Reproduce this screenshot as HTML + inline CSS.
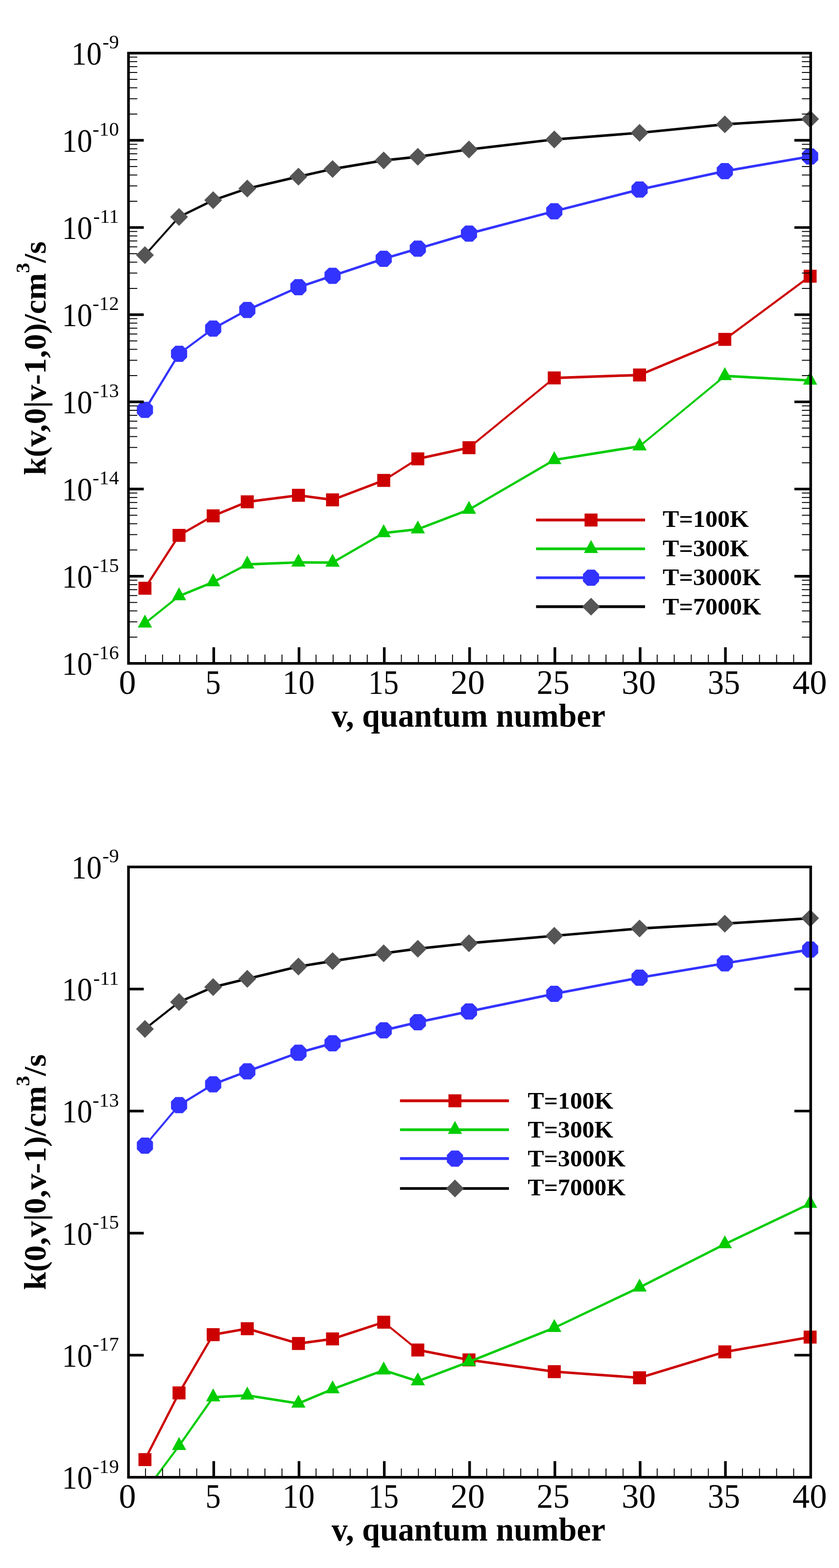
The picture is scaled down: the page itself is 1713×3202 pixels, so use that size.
<!DOCTYPE html>
<html lang="en">
<head>
<meta charset="utf-8">
<title>Rate coefficients vs vibrational quantum number</title>
<style>
html,body{margin:0;padding:0;background:#fff;}
body{width:1713px;height:3202px;overflow:hidden;}
svg{display:block;}
text{font-family:"Liberation Serif","Times New Roman",serif;fill:#000;}
.tk text{font-size:66px;}
.sup,.tk text.sup{font-size:38.5px;}
.ttl{font-size:66px;font-weight:bold;}
.ttl .sup{font-size:42px;}
.lg{font-size:49.5px;font-weight:bold;}
</style>
</head>
<body>
<svg width="1713" height="3202" viewBox="0 0 1713 3202">
<rect width="1713" height="3202" fill="#fff"/>
<clipPath id="clip1"><rect x="262.3" y="108.5" width="1392.9" height="1246.2"/></clipPath>
<g clip-path="url(#clip1)" stroke="#cc0000" fill="none"><line x1="295.9" y1="1201.3" x2="365.6" y2="1093.2" stroke-width="4.37"/><line x1="365.6" y1="1093.2" x2="435.2" y2="1053.4" stroke-width="4.51"/><line x1="435.2" y1="1053.4" x2="504.9" y2="1024.8" stroke-width="4.81"/><line x1="504.9" y1="1024.8" x2="609.3" y2="1011.5" stroke-width="5.16"/><line x1="609.3" y1="1011.5" x2="679.0" y2="1020.7" stroke-width="5.16"/><line x1="679.0" y1="1020.7" x2="783.4" y2="981.0" stroke-width="4.86"/><line x1="783.4" y1="981.0" x2="853.1" y2="937.0" stroke-width="4.40"/><line x1="853.1" y1="937.0" x2="957.5" y2="914.3" stroke-width="5.08"/><line x1="957.5" y1="914.3" x2="1131.7" y2="771.8" stroke-width="4.02"/><line x1="1131.7" y1="771.8" x2="1305.8" y2="765.8" stroke-width="5.20"/><line x1="1305.8" y1="765.8" x2="1479.9" y2="693.0" stroke-width="4.80"/><line x1="1479.9" y1="693.0" x2="1654.0" y2="564.0" stroke-width="4.18"/></g>
<rect x="282.7" y="1188.0" width="26.5" height="26.5" fill="#cc0000"/>
<rect x="352.3" y="1080.0" width="26.5" height="26.5" fill="#cc0000"/>
<rect x="422.0" y="1040.2" width="26.5" height="26.5" fill="#cc0000"/>
<rect x="491.6" y="1011.5" width="26.5" height="26.5" fill="#cc0000"/>
<rect x="596.1" y="998.2" width="26.5" height="26.5" fill="#cc0000"/>
<rect x="665.7" y="1007.5" width="26.5" height="26.5" fill="#cc0000"/>
<rect x="770.2" y="967.8" width="26.5" height="26.5" fill="#cc0000"/>
<rect x="839.8" y="923.8" width="26.5" height="26.5" fill="#cc0000"/>
<rect x="944.3" y="901.0" width="26.5" height="26.5" fill="#cc0000"/>
<rect x="1118.4" y="758.5" width="26.5" height="26.5" fill="#cc0000"/>
<rect x="1292.5" y="752.5" width="26.5" height="26.5" fill="#cc0000"/>
<rect x="1466.6" y="679.8" width="26.5" height="26.5" fill="#cc0000"/>
<rect x="1640.8" y="550.8" width="26.5" height="26.5" fill="#cc0000"/>
<g clip-path="url(#clip1)" stroke="#00cc00" fill="none"><line x1="295.9" y1="1272.9" x2="365.6" y2="1217.2" stroke-width="4.06"/><line x1="365.6" y1="1217.2" x2="435.2" y2="1188.8" stroke-width="4.82"/><line x1="435.2" y1="1188.8" x2="504.9" y2="1152.5" stroke-width="4.61"/><line x1="504.9" y1="1152.5" x2="609.3" y2="1148.5" stroke-width="5.20"/><line x1="609.3" y1="1148.5" x2="679.0" y2="1148.8" stroke-width="5.20"/><line x1="679.0" y1="1148.8" x2="783.4" y2="1088.5" stroke-width="4.50"/><line x1="783.4" y1="1088.5" x2="853.1" y2="1080.7" stroke-width="5.17"/><line x1="853.1" y1="1080.7" x2="957.5" y2="1040.7" stroke-width="4.86"/><line x1="957.5" y1="1040.7" x2="1131.7" y2="939.2" stroke-width="4.49"/><line x1="1131.7" y1="939.2" x2="1305.8" y2="911.3" stroke-width="5.13"/><line x1="1305.8" y1="911.3" x2="1479.9" y2="767.7" stroke-width="4.01"/><line x1="1479.9" y1="767.7" x2="1654.0" y2="777.0" stroke-width="5.19"/></g>
<polygon points="295.9,1254.9 310.4,1281.4 281.4,1281.4" fill="#00cc00"/>
<polygon points="365.6,1199.2 380.1,1225.7 351.1,1225.7" fill="#00cc00"/>
<polygon points="435.2,1170.8 449.7,1197.3 420.7,1197.3" fill="#00cc00"/>
<polygon points="504.9,1134.5 519.4,1161.0 490.4,1161.0" fill="#00cc00"/>
<polygon points="609.3,1130.5 623.8,1157.0 594.8,1157.0" fill="#00cc00"/>
<polygon points="679.0,1130.8 693.5,1157.3 664.5,1157.3" fill="#00cc00"/>
<polygon points="783.4,1070.5 797.9,1097.0 768.9,1097.0" fill="#00cc00"/>
<polygon points="853.1,1062.7 867.6,1089.2 838.6,1089.2" fill="#00cc00"/>
<polygon points="957.5,1022.7 972.0,1049.2 943.0,1049.2" fill="#00cc00"/>
<polygon points="1131.7,921.2 1146.2,947.7 1117.2,947.7" fill="#00cc00"/>
<polygon points="1305.8,893.3 1320.3,919.8 1291.3,919.8" fill="#00cc00"/>
<polygon points="1479.9,749.7 1494.4,776.2 1465.4,776.2" fill="#00cc00"/>
<polygon points="1654.0,759.0 1668.5,785.5 1639.5,785.5" fill="#00cc00"/>
<g clip-path="url(#clip1)" stroke="#3333ff" fill="none"><line x1="295.9" y1="837.0" x2="365.6" y2="722.4" stroke-width="4.44"/><line x1="365.6" y1="722.4" x2="435.2" y2="671.0" stroke-width="4.18"/><line x1="435.2" y1="671.0" x2="504.9" y2="633.0" stroke-width="4.56"/><line x1="504.9" y1="633.0" x2="609.3" y2="586.6" stroke-width="4.75"/><line x1="609.3" y1="586.6" x2="679.0" y2="563.2" stroke-width="4.93"/><line x1="679.0" y1="563.2" x2="783.4" y2="528.4" stroke-width="4.93"/><line x1="783.4" y1="528.4" x2="853.1" y2="507.8" stroke-width="4.99"/><line x1="853.1" y1="507.8" x2="957.5" y2="477.0" stroke-width="4.99"/><line x1="957.5" y1="477.0" x2="1131.7" y2="431.4" stroke-width="5.03"/><line x1="1131.7" y1="431.4" x2="1305.8" y2="387.0" stroke-width="5.04"/><line x1="1305.8" y1="387.0" x2="1479.9" y2="349.5" stroke-width="5.08"/><line x1="1479.9" y1="349.5" x2="1654.0" y2="319.5" stroke-width="5.12"/></g>
<polygon points="303.4,820.5 312.4,829.6 312.4,844.4 303.4,853.5 288.5,853.5 279.4,844.4 279.4,829.6 288.5,820.5" fill="#3333ff"/>
<polygon points="373.0,705.9 382.1,715.0 382.1,729.8 373.0,738.9 358.1,738.9 349.1,729.8 349.1,715.0 358.1,705.9" fill="#3333ff"/>
<polygon points="442.6,654.5 451.7,663.6 451.7,678.4 442.6,687.5 427.8,687.5 418.7,678.4 418.7,663.6 427.8,654.5" fill="#3333ff"/>
<polygon points="512.3,616.5 521.4,625.6 521.4,640.4 512.3,649.5 497.4,649.5 488.4,640.4 488.4,625.6 497.4,616.5" fill="#3333ff"/>
<polygon points="616.8,570.1 625.8,579.2 625.8,594.0 616.8,603.1 601.9,603.1 592.8,594.0 592.8,579.2 601.9,570.1" fill="#3333ff"/>
<polygon points="686.4,546.7 695.5,555.8 695.5,570.6 686.4,579.7 671.5,579.7 662.5,570.6 662.5,555.8 671.5,546.7" fill="#3333ff"/>
<polygon points="790.9,511.9 799.9,521.0 799.9,535.8 790.9,544.9 776.0,544.9 766.9,535.8 766.9,521.0 776.0,511.9" fill="#3333ff"/>
<polygon points="860.5,491.3 869.6,500.4 869.6,515.2 860.5,524.3 845.6,524.3 836.6,515.2 836.6,500.4 845.6,491.3" fill="#3333ff"/>
<polygon points="965.0,460.5 974.0,469.6 974.0,484.4 965.0,493.5 950.1,493.5 941.0,484.4 941.0,469.6 950.1,460.5" fill="#3333ff"/>
<polygon points="1139.1,414.9 1148.2,424.0 1148.2,438.8 1139.1,447.9 1124.2,447.9 1115.2,438.8 1115.2,424.0 1124.2,414.9" fill="#3333ff"/>
<polygon points="1313.2,370.5 1322.3,379.6 1322.3,394.4 1313.2,403.5 1298.3,403.5 1289.3,394.4 1289.3,379.6 1298.3,370.5" fill="#3333ff"/>
<polygon points="1487.3,333.0 1496.4,342.1 1496.4,356.9 1487.3,366.0 1472.5,366.0 1463.4,356.9 1463.4,342.1 1472.5,333.0" fill="#3333ff"/>
<polygon points="1661.4,303.0 1670.5,312.1 1670.5,326.9 1661.4,336.0 1646.6,336.0 1637.5,326.9 1637.5,312.1 1646.6,303.0" fill="#3333ff"/>
<g clip-path="url(#clip1)" stroke="#000000" fill="none"><line x1="295.9" y1="521.0" x2="365.6" y2="443.0" stroke-width="3.88"/><line x1="365.6" y1="443.0" x2="435.2" y2="408.8" stroke-width="4.67"/><line x1="435.2" y1="408.8" x2="504.9" y2="385.0" stroke-width="4.92"/><line x1="504.9" y1="385.0" x2="609.3" y2="360.7" stroke-width="5.06"/><line x1="609.3" y1="360.7" x2="679.0" y2="345.1" stroke-width="5.07"/><line x1="679.0" y1="345.1" x2="783.4" y2="327.6" stroke-width="5.13"/><line x1="783.4" y1="327.6" x2="853.1" y2="320.1" stroke-width="5.17"/><line x1="853.1" y1="320.1" x2="957.5" y2="305.2" stroke-width="5.15"/><line x1="957.5" y1="305.2" x2="1131.7" y2="284.8" stroke-width="5.16"/><line x1="1131.7" y1="284.8" x2="1305.8" y2="271.2" stroke-width="5.18"/><line x1="1305.8" y1="271.2" x2="1479.9" y2="253.9" stroke-width="5.17"/><line x1="1479.9" y1="253.9" x2="1654.0" y2="243.0" stroke-width="5.19"/></g>
<polygon points="295.9,502.8 314.1,521.0 295.9,539.2 277.7,521.0" fill="#555555"/>
<polygon points="365.6,424.8 383.8,443.0 365.6,461.2 347.4,443.0" fill="#555555"/>
<polygon points="435.2,390.6 453.4,408.8 435.2,427.0 417.0,408.8" fill="#555555"/>
<polygon points="504.9,366.8 523.1,385.0 504.9,403.2 486.7,385.0" fill="#555555"/>
<polygon points="609.3,342.5 627.5,360.7 609.3,378.9 591.1,360.7" fill="#555555"/>
<polygon points="679.0,326.9 697.2,345.1 679.0,363.3 660.8,345.1" fill="#555555"/>
<polygon points="783.4,309.4 801.6,327.6 783.4,345.8 765.2,327.6" fill="#555555"/>
<polygon points="853.1,301.9 871.3,320.1 853.1,338.3 834.9,320.1" fill="#555555"/>
<polygon points="957.5,287.0 975.8,305.2 957.5,323.4 939.3,305.2" fill="#555555"/>
<polygon points="1131.7,266.6 1149.9,284.8 1131.7,303.0 1113.5,284.8" fill="#555555"/>
<polygon points="1305.8,253.0 1324.0,271.2 1305.8,289.4 1287.6,271.2" fill="#555555"/>
<polygon points="1479.9,235.7 1498.1,253.9 1479.9,272.1 1461.7,253.9" fill="#555555"/>
<polygon points="1654.0,224.8 1672.2,243.0 1654.0,261.2 1635.8,243.0" fill="#555555"/>
<g stroke="#000"><line x1="297.1" y1="1354.7" x2="297.1" y2="1336.7" stroke-width="1.9"/><line x1="331.9" y1="1354.7" x2="331.9" y2="1336.7" stroke-width="1.9"/><line x1="366.8" y1="1354.7" x2="366.8" y2="1336.7" stroke-width="1.9"/><line x1="401.6" y1="1354.7" x2="401.6" y2="1336.7" stroke-width="1.9"/><line x1="436.4" y1="1354.7" x2="436.4" y2="1321.7" stroke-width="5.4"/><line x1="471.2" y1="1354.7" x2="471.2" y2="1336.7" stroke-width="1.9"/><line x1="506.1" y1="1354.7" x2="506.1" y2="1336.7" stroke-width="1.9"/><line x1="540.9" y1="1354.7" x2="540.9" y2="1336.7" stroke-width="1.9"/><line x1="575.7" y1="1354.7" x2="575.7" y2="1336.7" stroke-width="1.9"/><line x1="610.5" y1="1354.7" x2="610.5" y2="1321.7" stroke-width="5.4"/><line x1="645.3" y1="1354.7" x2="645.3" y2="1336.7" stroke-width="1.9"/><line x1="680.2" y1="1354.7" x2="680.2" y2="1336.7" stroke-width="1.9"/><line x1="715.0" y1="1354.7" x2="715.0" y2="1336.7" stroke-width="1.9"/><line x1="749.8" y1="1354.7" x2="749.8" y2="1336.7" stroke-width="1.9"/><line x1="784.6" y1="1354.7" x2="784.6" y2="1321.7" stroke-width="5.4"/><line x1="819.5" y1="1354.7" x2="819.5" y2="1336.7" stroke-width="1.9"/><line x1="854.3" y1="1354.7" x2="854.3" y2="1336.7" stroke-width="1.9"/><line x1="889.1" y1="1354.7" x2="889.1" y2="1336.7" stroke-width="1.9"/><line x1="923.9" y1="1354.7" x2="923.9" y2="1336.7" stroke-width="1.9"/><line x1="958.8" y1="1354.7" x2="958.8" y2="1321.7" stroke-width="5.4"/><line x1="993.6" y1="1354.7" x2="993.6" y2="1336.7" stroke-width="1.9"/><line x1="1028.4" y1="1354.7" x2="1028.4" y2="1336.7" stroke-width="1.9"/><line x1="1063.2" y1="1354.7" x2="1063.2" y2="1336.7" stroke-width="1.9"/><line x1="1098.0" y1="1354.7" x2="1098.0" y2="1336.7" stroke-width="1.9"/><line x1="1132.9" y1="1354.7" x2="1132.9" y2="1321.7" stroke-width="5.4"/><line x1="1167.7" y1="1354.7" x2="1167.7" y2="1336.7" stroke-width="1.9"/><line x1="1202.5" y1="1354.7" x2="1202.5" y2="1336.7" stroke-width="1.9"/><line x1="1237.3" y1="1354.7" x2="1237.3" y2="1336.7" stroke-width="1.9"/><line x1="1272.2" y1="1354.7" x2="1272.2" y2="1336.7" stroke-width="1.9"/><line x1="1307.0" y1="1354.7" x2="1307.0" y2="1321.7" stroke-width="5.4"/><line x1="1341.8" y1="1354.7" x2="1341.8" y2="1336.7" stroke-width="1.9"/><line x1="1376.6" y1="1354.7" x2="1376.6" y2="1336.7" stroke-width="1.9"/><line x1="1411.4" y1="1354.7" x2="1411.4" y2="1336.7" stroke-width="1.9"/><line x1="1446.3" y1="1354.7" x2="1446.3" y2="1336.7" stroke-width="1.9"/><line x1="1481.1" y1="1354.7" x2="1481.1" y2="1321.7" stroke-width="5.4"/><line x1="1515.9" y1="1354.7" x2="1515.9" y2="1336.7" stroke-width="1.9"/><line x1="1550.7" y1="1354.7" x2="1550.7" y2="1336.7" stroke-width="1.9"/><line x1="1585.6" y1="1354.7" x2="1585.6" y2="1336.7" stroke-width="1.9"/><line x1="1620.4" y1="1354.7" x2="1620.4" y2="1336.7" stroke-width="1.9"/><line x1="262.3" y1="1301.1" x2="280.3" y2="1301.1" stroke-width="1.9"/><line x1="1655.2" y1="1301.1" x2="1637.2" y2="1301.1" stroke-width="1.9"/><line x1="262.3" y1="1269.8" x2="280.3" y2="1269.8" stroke-width="1.9"/><line x1="1655.2" y1="1269.8" x2="1637.2" y2="1269.8" stroke-width="1.9"/><line x1="262.3" y1="1247.5" x2="280.3" y2="1247.5" stroke-width="1.9"/><line x1="1655.2" y1="1247.5" x2="1637.2" y2="1247.5" stroke-width="1.9"/><line x1="262.3" y1="1230.3" x2="280.3" y2="1230.3" stroke-width="1.9"/><line x1="1655.2" y1="1230.3" x2="1637.2" y2="1230.3" stroke-width="1.9"/><line x1="262.3" y1="1216.2" x2="280.3" y2="1216.2" stroke-width="1.9"/><line x1="1655.2" y1="1216.2" x2="1637.2" y2="1216.2" stroke-width="1.9"/><line x1="262.3" y1="1204.2" x2="280.3" y2="1204.2" stroke-width="1.9"/><line x1="1655.2" y1="1204.2" x2="1637.2" y2="1204.2" stroke-width="1.9"/><line x1="262.3" y1="1193.9" x2="280.3" y2="1193.9" stroke-width="1.9"/><line x1="1655.2" y1="1193.9" x2="1637.2" y2="1193.9" stroke-width="1.9"/><line x1="262.3" y1="1184.8" x2="280.3" y2="1184.8" stroke-width="1.9"/><line x1="1655.2" y1="1184.8" x2="1637.2" y2="1184.8" stroke-width="1.9"/><line x1="262.3" y1="1176.7" x2="293.5" y2="1176.7" stroke-width="5.4"/><line x1="1655.2" y1="1176.7" x2="1621.9" y2="1176.7" stroke-width="5.4"/><line x1="262.3" y1="1123.1" x2="280.3" y2="1123.1" stroke-width="1.9"/><line x1="1655.2" y1="1123.1" x2="1637.2" y2="1123.1" stroke-width="1.9"/><line x1="262.3" y1="1091.7" x2="280.3" y2="1091.7" stroke-width="1.9"/><line x1="1655.2" y1="1091.7" x2="1637.2" y2="1091.7" stroke-width="1.9"/><line x1="262.3" y1="1069.5" x2="280.3" y2="1069.5" stroke-width="1.9"/><line x1="1655.2" y1="1069.5" x2="1637.2" y2="1069.5" stroke-width="1.9"/><line x1="262.3" y1="1052.2" x2="280.3" y2="1052.2" stroke-width="1.9"/><line x1="1655.2" y1="1052.2" x2="1637.2" y2="1052.2" stroke-width="1.9"/><line x1="262.3" y1="1038.1" x2="280.3" y2="1038.1" stroke-width="1.9"/><line x1="1655.2" y1="1038.1" x2="1637.2" y2="1038.1" stroke-width="1.9"/><line x1="262.3" y1="1026.2" x2="280.3" y2="1026.2" stroke-width="1.9"/><line x1="1655.2" y1="1026.2" x2="1637.2" y2="1026.2" stroke-width="1.9"/><line x1="262.3" y1="1015.9" x2="280.3" y2="1015.9" stroke-width="1.9"/><line x1="1655.2" y1="1015.9" x2="1637.2" y2="1015.9" stroke-width="1.9"/><line x1="262.3" y1="1006.8" x2="280.3" y2="1006.8" stroke-width="1.9"/><line x1="1655.2" y1="1006.8" x2="1637.2" y2="1006.8" stroke-width="1.9"/><line x1="262.3" y1="998.6" x2="293.5" y2="998.6" stroke-width="5.4"/><line x1="1655.2" y1="998.6" x2="1621.9" y2="998.6" stroke-width="5.4"/><line x1="262.3" y1="945.1" x2="280.3" y2="945.1" stroke-width="1.9"/><line x1="1655.2" y1="945.1" x2="1637.2" y2="945.1" stroke-width="1.9"/><line x1="262.3" y1="913.7" x2="280.3" y2="913.7" stroke-width="1.9"/><line x1="1655.2" y1="913.7" x2="1637.2" y2="913.7" stroke-width="1.9"/><line x1="262.3" y1="891.5" x2="280.3" y2="891.5" stroke-width="1.9"/><line x1="1655.2" y1="891.5" x2="1637.2" y2="891.5" stroke-width="1.9"/><line x1="262.3" y1="874.2" x2="280.3" y2="874.2" stroke-width="1.9"/><line x1="1655.2" y1="874.2" x2="1637.2" y2="874.2" stroke-width="1.9"/><line x1="262.3" y1="860.1" x2="280.3" y2="860.1" stroke-width="1.9"/><line x1="1655.2" y1="860.1" x2="1637.2" y2="860.1" stroke-width="1.9"/><line x1="262.3" y1="848.2" x2="280.3" y2="848.2" stroke-width="1.9"/><line x1="1655.2" y1="848.2" x2="1637.2" y2="848.2" stroke-width="1.9"/><line x1="262.3" y1="837.9" x2="280.3" y2="837.9" stroke-width="1.9"/><line x1="1655.2" y1="837.9" x2="1637.2" y2="837.9" stroke-width="1.9"/><line x1="262.3" y1="828.8" x2="280.3" y2="828.8" stroke-width="1.9"/><line x1="1655.2" y1="828.8" x2="1637.2" y2="828.8" stroke-width="1.9"/><line x1="262.3" y1="820.6" x2="293.5" y2="820.6" stroke-width="5.4"/><line x1="1655.2" y1="820.6" x2="1621.9" y2="820.6" stroke-width="5.4"/><line x1="262.3" y1="767.0" x2="280.3" y2="767.0" stroke-width="1.9"/><line x1="1655.2" y1="767.0" x2="1637.2" y2="767.0" stroke-width="1.9"/><line x1="262.3" y1="735.7" x2="280.3" y2="735.7" stroke-width="1.9"/><line x1="1655.2" y1="735.7" x2="1637.2" y2="735.7" stroke-width="1.9"/><line x1="262.3" y1="713.4" x2="280.3" y2="713.4" stroke-width="1.9"/><line x1="1655.2" y1="713.4" x2="1637.2" y2="713.4" stroke-width="1.9"/><line x1="262.3" y1="696.2" x2="280.3" y2="696.2" stroke-width="1.9"/><line x1="1655.2" y1="696.2" x2="1637.2" y2="696.2" stroke-width="1.9"/><line x1="262.3" y1="682.1" x2="280.3" y2="682.1" stroke-width="1.9"/><line x1="1655.2" y1="682.1" x2="1637.2" y2="682.1" stroke-width="1.9"/><line x1="262.3" y1="670.2" x2="280.3" y2="670.2" stroke-width="1.9"/><line x1="1655.2" y1="670.2" x2="1637.2" y2="670.2" stroke-width="1.9"/><line x1="262.3" y1="659.8" x2="280.3" y2="659.8" stroke-width="1.9"/><line x1="1655.2" y1="659.8" x2="1637.2" y2="659.8" stroke-width="1.9"/><line x1="262.3" y1="650.7" x2="280.3" y2="650.7" stroke-width="1.9"/><line x1="1655.2" y1="650.7" x2="1637.2" y2="650.7" stroke-width="1.9"/><line x1="262.3" y1="642.6" x2="293.5" y2="642.6" stroke-width="5.4"/><line x1="1655.2" y1="642.6" x2="1621.9" y2="642.6" stroke-width="5.4"/><line x1="262.3" y1="589.0" x2="280.3" y2="589.0" stroke-width="1.9"/><line x1="1655.2" y1="589.0" x2="1637.2" y2="589.0" stroke-width="1.9"/><line x1="262.3" y1="557.6" x2="280.3" y2="557.6" stroke-width="1.9"/><line x1="1655.2" y1="557.6" x2="1637.2" y2="557.6" stroke-width="1.9"/><line x1="262.3" y1="535.4" x2="280.3" y2="535.4" stroke-width="1.9"/><line x1="1655.2" y1="535.4" x2="1637.2" y2="535.4" stroke-width="1.9"/><line x1="262.3" y1="518.1" x2="280.3" y2="518.1" stroke-width="1.9"/><line x1="1655.2" y1="518.1" x2="1637.2" y2="518.1" stroke-width="1.9"/><line x1="262.3" y1="504.1" x2="280.3" y2="504.1" stroke-width="1.9"/><line x1="1655.2" y1="504.1" x2="1637.2" y2="504.1" stroke-width="1.9"/><line x1="262.3" y1="492.1" x2="280.3" y2="492.1" stroke-width="1.9"/><line x1="1655.2" y1="492.1" x2="1637.2" y2="492.1" stroke-width="1.9"/><line x1="262.3" y1="481.8" x2="280.3" y2="481.8" stroke-width="1.9"/><line x1="1655.2" y1="481.8" x2="1637.2" y2="481.8" stroke-width="1.9"/><line x1="262.3" y1="472.7" x2="280.3" y2="472.7" stroke-width="1.9"/><line x1="1655.2" y1="472.7" x2="1637.2" y2="472.7" stroke-width="1.9"/><line x1="262.3" y1="464.6" x2="293.5" y2="464.6" stroke-width="5.4"/><line x1="1655.2" y1="464.6" x2="1621.9" y2="464.6" stroke-width="5.4"/><line x1="262.3" y1="411.0" x2="280.3" y2="411.0" stroke-width="1.9"/><line x1="1655.2" y1="411.0" x2="1637.2" y2="411.0" stroke-width="1.9"/><line x1="262.3" y1="379.6" x2="280.3" y2="379.6" stroke-width="1.9"/><line x1="1655.2" y1="379.6" x2="1637.2" y2="379.6" stroke-width="1.9"/><line x1="262.3" y1="357.4" x2="280.3" y2="357.4" stroke-width="1.9"/><line x1="1655.2" y1="357.4" x2="1637.2" y2="357.4" stroke-width="1.9"/><line x1="262.3" y1="340.1" x2="280.3" y2="340.1" stroke-width="1.9"/><line x1="1655.2" y1="340.1" x2="1637.2" y2="340.1" stroke-width="1.9"/><line x1="262.3" y1="326.0" x2="280.3" y2="326.0" stroke-width="1.9"/><line x1="1655.2" y1="326.0" x2="1637.2" y2="326.0" stroke-width="1.9"/><line x1="262.3" y1="314.1" x2="280.3" y2="314.1" stroke-width="1.9"/><line x1="1655.2" y1="314.1" x2="1637.2" y2="314.1" stroke-width="1.9"/><line x1="262.3" y1="303.8" x2="280.3" y2="303.8" stroke-width="1.9"/><line x1="1655.2" y1="303.8" x2="1637.2" y2="303.8" stroke-width="1.9"/><line x1="262.3" y1="294.7" x2="280.3" y2="294.7" stroke-width="1.9"/><line x1="1655.2" y1="294.7" x2="1637.2" y2="294.7" stroke-width="1.9"/><line x1="262.3" y1="286.5" x2="293.5" y2="286.5" stroke-width="5.4"/><line x1="1655.2" y1="286.5" x2="1621.9" y2="286.5" stroke-width="5.4"/><line x1="262.3" y1="232.9" x2="280.3" y2="232.9" stroke-width="1.9"/><line x1="1655.2" y1="232.9" x2="1637.2" y2="232.9" stroke-width="1.9"/><line x1="262.3" y1="201.6" x2="280.3" y2="201.6" stroke-width="1.9"/><line x1="1655.2" y1="201.6" x2="1637.2" y2="201.6" stroke-width="1.9"/><line x1="262.3" y1="179.3" x2="280.3" y2="179.3" stroke-width="1.9"/><line x1="1655.2" y1="179.3" x2="1637.2" y2="179.3" stroke-width="1.9"/><line x1="262.3" y1="162.1" x2="280.3" y2="162.1" stroke-width="1.9"/><line x1="1655.2" y1="162.1" x2="1637.2" y2="162.1" stroke-width="1.9"/><line x1="262.3" y1="148.0" x2="280.3" y2="148.0" stroke-width="1.9"/><line x1="1655.2" y1="148.0" x2="1637.2" y2="148.0" stroke-width="1.9"/><line x1="262.3" y1="136.1" x2="280.3" y2="136.1" stroke-width="1.9"/><line x1="1655.2" y1="136.1" x2="1637.2" y2="136.1" stroke-width="1.9"/><line x1="262.3" y1="125.8" x2="280.3" y2="125.8" stroke-width="1.9"/><line x1="1655.2" y1="125.8" x2="1637.2" y2="125.8" stroke-width="1.9"/><line x1="262.3" y1="116.6" x2="280.3" y2="116.6" stroke-width="1.9"/><line x1="1655.2" y1="116.6" x2="1637.2" y2="116.6" stroke-width="1.9"/></g>
<rect x="262.3" y="108.5" width="1392.9" height="1246.2" fill="none" stroke="#000" stroke-width="5.4"/>
<g class="tk"><text transform="translate(260.05,1416.5) scale(1.0554,1.05)" text-anchor="middle">0</text><text transform="translate(435.16,1416.5) scale(0.9452,1.05)" text-anchor="middle">5</text><text transform="translate(609.53,1416.5) scale(1.0004,1.05)" text-anchor="middle">10</text><text transform="translate(782.89,1416.5) scale(0.9398,1.05)" text-anchor="middle">15</text><text transform="translate(955.00,1416.5) scale(1.0577,1.05)" text-anchor="middle">20</text><text transform="translate(1129.36,1416.5) scale(1.0166,1.05)" text-anchor="middle">25</text><text transform="translate(1304.23,1416.5) scale(1.0574,1.05)" text-anchor="middle">30</text><text transform="translate(1478.09,1416.5) scale(1.0003,1.05)" text-anchor="middle">35</text><text transform="translate(1653.20,1416.5) scale(1.0638,1.05)" text-anchor="middle">40</text></g>
<g class="tk"><text transform="translate(145.7,131.9) scale(0.94,1.04)">10</text><text class="sup" transform="translate(243,99.3) scale(1.05,1.047)" text-anchor="end">-9</text><text transform="translate(126.5,309.9) scale(0.94,1.04)">10</text><text class="sup" transform="translate(243,277.3) scale(1.05,1.047)" text-anchor="end">-10</text><text transform="translate(126.5,488.0) scale(0.94,1.04)">10</text><text class="sup" transform="translate(243,455.4) scale(1.05,1.047)" text-anchor="end">-11</text><text transform="translate(126.5,666.0) scale(0.94,1.04)">10</text><text class="sup" transform="translate(243,633.4) scale(1.05,1.047)" text-anchor="end">-12</text><text transform="translate(126.5,844.0) scale(0.94,1.04)">10</text><text class="sup" transform="translate(243,811.4) scale(1.05,1.047)" text-anchor="end">-13</text><text transform="translate(126.5,1022.0) scale(0.94,1.04)">10</text><text class="sup" transform="translate(243,989.4) scale(1.05,1.047)" text-anchor="end">-14</text><text transform="translate(126.5,1200.1) scale(0.94,1.04)">10</text><text class="sup" transform="translate(243,1167.5) scale(1.05,1.047)" text-anchor="end">-15</text><text transform="translate(126.5,1378.1) scale(0.94,1.04)">10</text><text class="sup" transform="translate(243,1345.5) scale(1.05,1.047)" text-anchor="end">-16</text></g>
<text class="ttl" transform="translate(956.5,1483.8) scale(1.0,1.015)" text-anchor="middle">v, quantum number</text>
<text class="ttl" transform="translate(93.2,731.6) rotate(-90) scale(0.997,0.95)" text-anchor="middle">k(v,0|v-1,0)/cm<tspan class="sup" dy="-35">3</tspan><tspan dy="35">/s</tspan></text>
<line x1="1094.5" y1="1061.9" x2="1317.0" y2="1061.9" stroke="#cc0000" stroke-width="5.6"/>
<rect x="1193.5" y="1048.7" width="26.5" height="26.5" fill="#cc0000"/>
<text class="lg" transform="translate(1353.0,1076.0) scale(1.012,1)">T=100K</text>
<line x1="1094.5" y1="1120.8" x2="1317.0" y2="1120.8" stroke="#00cc00" stroke-width="5.6"/>
<polygon points="1206.8,1102.8 1221.2,1129.3 1192.2,1129.3" fill="#00cc00"/>
<text class="lg" transform="translate(1353.0,1135.6) scale(1.012,1)">T=300K</text>
<line x1="1094.5" y1="1179.8" x2="1317.0" y2="1179.8" stroke="#3333ff" stroke-width="5.6"/>
<polygon points="1214.2,1163.3 1223.2,1172.4 1223.2,1187.2 1214.2,1196.3 1199.3,1196.3 1190.2,1187.2 1190.2,1172.4 1199.3,1163.3" fill="#3333ff"/>
<text class="lg" transform="translate(1353.0,1195.2) scale(1.012,1)">T=3000K</text>
<line x1="1094.5" y1="1238.9" x2="1317.0" y2="1238.9" stroke="#000000" stroke-width="5.6"/>
<polygon points="1206.8,1220.7 1225.0,1238.9 1206.8,1257.1 1188.5,1238.9" fill="#555555"/>
<text class="lg" transform="translate(1353.0,1254.8) scale(1.012,1)">T=7000K</text>
<clipPath id="clip2"><rect x="262.3" y="1770.4" width="1392.9" height="1246.3"/></clipPath>
<g clip-path="url(#clip2)" stroke="#cc0000" fill="none"><line x1="295.9" y1="2980.7" x2="365.6" y2="2844.5" stroke-width="4.63"/><line x1="365.6" y1="2844.5" x2="435.2" y2="2725.4" stroke-width="4.49"/><line x1="435.2" y1="2725.4" x2="504.9" y2="2713.3" stroke-width="5.12"/><line x1="504.9" y1="2713.3" x2="609.3" y2="2743.6" stroke-width="4.99"/><line x1="609.3" y1="2743.6" x2="679.0" y2="2734.2" stroke-width="5.15"/><line x1="679.0" y1="2734.2" x2="783.4" y2="2700.0" stroke-width="4.94"/><line x1="783.4" y1="2700.0" x2="853.1" y2="2756.8" stroke-width="4.03"/><line x1="853.1" y1="2756.8" x2="957.5" y2="2777.0" stroke-width="5.11"/><line x1="957.5" y1="2777.0" x2="1131.7" y2="2801.0" stroke-width="5.15"/><line x1="1131.7" y1="2801.0" x2="1305.8" y2="2813.6" stroke-width="5.19"/><line x1="1305.8" y1="2813.6" x2="1479.9" y2="2760.7" stroke-width="4.98"/><line x1="1479.9" y1="2760.7" x2="1654.0" y2="2730.4" stroke-width="5.12"/></g>
<rect x="282.7" y="2967.4" width="26.5" height="26.5" fill="#cc0000"/>
<rect x="352.3" y="2831.2" width="26.5" height="26.5" fill="#cc0000"/>
<rect x="422.0" y="2712.2" width="26.5" height="26.5" fill="#cc0000"/>
<rect x="491.6" y="2700.1" width="26.5" height="26.5" fill="#cc0000"/>
<rect x="596.1" y="2730.3" width="26.5" height="26.5" fill="#cc0000"/>
<rect x="665.7" y="2720.9" width="26.5" height="26.5" fill="#cc0000"/>
<rect x="770.2" y="2686.8" width="26.5" height="26.5" fill="#cc0000"/>
<rect x="839.8" y="2743.6" width="26.5" height="26.5" fill="#cc0000"/>
<rect x="944.3" y="2763.8" width="26.5" height="26.5" fill="#cc0000"/>
<rect x="1118.4" y="2787.8" width="26.5" height="26.5" fill="#cc0000"/>
<rect x="1292.5" y="2800.3" width="26.5" height="26.5" fill="#cc0000"/>
<rect x="1466.6" y="2747.4" width="26.5" height="26.5" fill="#cc0000"/>
<rect x="1640.8" y="2717.2" width="26.5" height="26.5" fill="#cc0000"/>
<g clip-path="url(#clip2)" stroke="#00cc00" fill="none"><line x1="295.9" y1="3046.0" x2="365.6" y2="2952.5" stroke-width="4.17"/><line x1="365.6" y1="2952.5" x2="435.2" y2="2853.3" stroke-width="4.26"/><line x1="435.2" y1="2853.3" x2="504.9" y2="2849.5" stroke-width="5.19"/><line x1="504.9" y1="2849.5" x2="609.3" y2="2866.0" stroke-width="5.14"/><line x1="609.3" y1="2866.0" x2="679.0" y2="2836.8" stroke-width="4.80"/><line x1="679.0" y1="2836.8" x2="783.4" y2="2798.2" stroke-width="4.88"/><line x1="783.4" y1="2798.2" x2="853.1" y2="2820.6" stroke-width="4.95"/><line x1="853.1" y1="2820.6" x2="957.5" y2="2781.0" stroke-width="4.86"/><line x1="957.5" y1="2781.0" x2="1131.7" y2="2711.5" stroke-width="4.83"/><line x1="1131.7" y1="2711.5" x2="1305.8" y2="2628.9" stroke-width="4.70"/><line x1="1305.8" y1="2628.9" x2="1479.9" y2="2540.6" stroke-width="4.64"/><line x1="1479.9" y1="2540.6" x2="1654.0" y2="2457.9" stroke-width="4.70"/></g>
<polygon points="365.6,2934.5 380.1,2961.0 351.1,2961.0" fill="#00cc00"/>
<polygon points="435.2,2835.3 449.7,2861.8 420.7,2861.8" fill="#00cc00"/>
<polygon points="504.9,2831.5 519.4,2858.0 490.4,2858.0" fill="#00cc00"/>
<polygon points="609.3,2848.0 623.8,2874.5 594.8,2874.5" fill="#00cc00"/>
<polygon points="679.0,2818.8 693.5,2845.3 664.5,2845.3" fill="#00cc00"/>
<polygon points="783.4,2780.2 797.9,2806.7 768.9,2806.7" fill="#00cc00"/>
<polygon points="853.1,2802.6 867.6,2829.1 838.6,2829.1" fill="#00cc00"/>
<polygon points="957.5,2763.0 972.0,2789.5 943.0,2789.5" fill="#00cc00"/>
<polygon points="1131.7,2693.5 1146.2,2720.0 1117.2,2720.0" fill="#00cc00"/>
<polygon points="1305.8,2610.9 1320.3,2637.4 1291.3,2637.4" fill="#00cc00"/>
<polygon points="1479.9,2522.6 1494.4,2549.1 1465.4,2549.1" fill="#00cc00"/>
<polygon points="1654.0,2439.9 1668.5,2466.4 1639.5,2466.4" fill="#00cc00"/>
<g clip-path="url(#clip2)" stroke="#3333ff" fill="none"><line x1="295.9" y1="2339.5" x2="365.6" y2="2256.8" stroke-width="3.98"/><line x1="365.6" y1="2256.8" x2="435.2" y2="2214.3" stroke-width="4.44"/><line x1="435.2" y1="2214.3" x2="504.9" y2="2187.8" stroke-width="4.86"/><line x1="504.9" y1="2187.8" x2="609.3" y2="2149.8" stroke-width="4.89"/><line x1="609.3" y1="2149.8" x2="679.0" y2="2130.5" stroke-width="5.01"/><line x1="679.0" y1="2130.5" x2="783.4" y2="2104.0" stroke-width="5.04"/><line x1="783.4" y1="2104.0" x2="853.1" y2="2087.5" stroke-width="5.06"/><line x1="853.1" y1="2087.5" x2="957.5" y2="2065.4" stroke-width="5.09"/><line x1="957.5" y1="2065.4" x2="1131.7" y2="2029.5" stroke-width="5.09"/><line x1="1131.7" y1="2029.5" x2="1305.8" y2="1996.5" stroke-width="5.11"/><line x1="1305.8" y1="1996.5" x2="1479.9" y2="1967.2" stroke-width="5.13"/><line x1="1479.9" y1="1967.2" x2="1654.0" y2="1939.1" stroke-width="5.13"/></g>
<polygon points="303.4,2323.0 312.4,2332.1 312.4,2346.9 303.4,2356.0 288.5,2356.0 279.4,2346.9 279.4,2332.1 288.5,2323.0" fill="#3333ff"/>
<polygon points="373.0,2240.3 382.1,2249.4 382.1,2264.2 373.0,2273.3 358.1,2273.3 349.1,2264.2 349.1,2249.4 358.1,2240.3" fill="#3333ff"/>
<polygon points="442.6,2197.8 451.7,2206.9 451.7,2221.7 442.6,2230.8 427.8,2230.8 418.7,2221.7 418.7,2206.9 427.8,2197.8" fill="#3333ff"/>
<polygon points="512.3,2171.3 521.4,2180.4 521.4,2195.2 512.3,2204.3 497.4,2204.3 488.4,2195.2 488.4,2180.4 497.4,2171.3" fill="#3333ff"/>
<polygon points="616.8,2133.3 625.8,2142.4 625.8,2157.2 616.8,2166.3 601.9,2166.3 592.8,2157.2 592.8,2142.4 601.9,2133.3" fill="#3333ff"/>
<polygon points="686.4,2114.0 695.5,2123.1 695.5,2137.9 686.4,2147.0 671.5,2147.0 662.5,2137.9 662.5,2123.1 671.5,2114.0" fill="#3333ff"/>
<polygon points="790.9,2087.5 799.9,2096.6 799.9,2111.4 790.9,2120.5 776.0,2120.5 766.9,2111.4 766.9,2096.6 776.0,2087.5" fill="#3333ff"/>
<polygon points="860.5,2071.0 869.6,2080.1 869.6,2094.9 860.5,2104.0 845.6,2104.0 836.6,2094.9 836.6,2080.1 845.6,2071.0" fill="#3333ff"/>
<polygon points="965.0,2048.9 974.0,2058.0 974.0,2072.8 965.0,2081.9 950.1,2081.9 941.0,2072.8 941.0,2058.0 950.1,2048.9" fill="#3333ff"/>
<polygon points="1139.1,2013.0 1148.2,2022.1 1148.2,2036.9 1139.1,2046.0 1124.2,2046.0 1115.2,2036.9 1115.2,2022.1 1124.2,2013.0" fill="#3333ff"/>
<polygon points="1313.2,1980.0 1322.3,1989.1 1322.3,2003.9 1313.2,2013.0 1298.3,2013.0 1289.3,2003.9 1289.3,1989.1 1298.3,1980.0" fill="#3333ff"/>
<polygon points="1487.3,1950.7 1496.4,1959.8 1496.4,1974.6 1487.3,1983.7 1472.5,1983.7 1463.4,1974.6 1463.4,1959.8 1472.5,1950.7" fill="#3333ff"/>
<polygon points="1661.4,1922.6 1670.5,1931.7 1670.5,1946.5 1661.4,1955.6 1646.6,1955.6 1637.5,1946.5 1637.5,1931.7 1646.6,1922.6" fill="#3333ff"/>
<g clip-path="url(#clip2)" stroke="#000000" fill="none"><line x1="295.9" y1="2101.2" x2="365.6" y2="2046.3" stroke-width="4.08"/><line x1="365.6" y1="2046.3" x2="435.2" y2="2015.7" stroke-width="4.76"/><line x1="435.2" y1="2015.7" x2="504.9" y2="1998.8" stroke-width="5.05"/><line x1="504.9" y1="1998.8" x2="609.3" y2="1973.7" stroke-width="5.06"/><line x1="609.3" y1="1973.7" x2="679.0" y2="1962.6" stroke-width="5.14"/><line x1="679.0" y1="1962.6" x2="783.4" y2="1946.8" stroke-width="5.14"/><line x1="783.4" y1="1946.8" x2="853.1" y2="1937.4" stroke-width="5.15"/><line x1="853.1" y1="1937.4" x2="957.5" y2="1926.2" stroke-width="5.17"/><line x1="957.5" y1="1926.2" x2="1131.7" y2="1911.0" stroke-width="5.18"/><line x1="1131.7" y1="1911.0" x2="1305.8" y2="1896.1" stroke-width="5.18"/><line x1="1305.8" y1="1896.1" x2="1479.9" y2="1886.2" stroke-width="5.19"/><line x1="1479.9" y1="1886.2" x2="1654.0" y2="1875.1" stroke-width="5.19"/></g>
<polygon points="295.9,2083.0 314.1,2101.2 295.9,2119.4 277.7,2101.2" fill="#555555"/>
<polygon points="365.6,2028.1 383.8,2046.3 365.6,2064.5 347.4,2046.3" fill="#555555"/>
<polygon points="435.2,1997.5 453.4,2015.7 435.2,2033.9 417.0,2015.7" fill="#555555"/>
<polygon points="504.9,1980.6 523.1,1998.8 504.9,2017.0 486.7,1998.8" fill="#555555"/>
<polygon points="609.3,1955.5 627.5,1973.7 609.3,1991.9 591.1,1973.7" fill="#555555"/>
<polygon points="679.0,1944.4 697.2,1962.6 679.0,1980.8 660.8,1962.6" fill="#555555"/>
<polygon points="783.4,1928.6 801.6,1946.8 783.4,1965.0 765.2,1946.8" fill="#555555"/>
<polygon points="853.1,1919.2 871.3,1937.4 853.1,1955.6 834.9,1937.4" fill="#555555"/>
<polygon points="957.5,1908.0 975.8,1926.2 957.5,1944.4 939.3,1926.2" fill="#555555"/>
<polygon points="1131.7,1892.8 1149.9,1911.0 1131.7,1929.2 1113.5,1911.0" fill="#555555"/>
<polygon points="1305.8,1877.9 1324.0,1896.1 1305.8,1914.3 1287.6,1896.1" fill="#555555"/>
<polygon points="1479.9,1868.0 1498.1,1886.2 1479.9,1904.4 1461.7,1886.2" fill="#555555"/>
<polygon points="1654.0,1856.9 1672.2,1875.1 1654.0,1893.3 1635.8,1875.1" fill="#555555"/>
<g stroke="#000"><line x1="297.1" y1="3016.7" x2="297.1" y2="2998.7" stroke-width="1.9"/><line x1="331.9" y1="3016.7" x2="331.9" y2="2998.7" stroke-width="1.9"/><line x1="366.8" y1="3016.7" x2="366.8" y2="2998.7" stroke-width="1.9"/><line x1="401.6" y1="3016.7" x2="401.6" y2="2998.7" stroke-width="1.9"/><line x1="436.4" y1="3016.7" x2="436.4" y2="2983.7" stroke-width="5.4"/><line x1="471.2" y1="3016.7" x2="471.2" y2="2998.7" stroke-width="1.9"/><line x1="506.1" y1="3016.7" x2="506.1" y2="2998.7" stroke-width="1.9"/><line x1="540.9" y1="3016.7" x2="540.9" y2="2998.7" stroke-width="1.9"/><line x1="575.7" y1="3016.7" x2="575.7" y2="2998.7" stroke-width="1.9"/><line x1="610.5" y1="3016.7" x2="610.5" y2="2983.7" stroke-width="5.4"/><line x1="645.3" y1="3016.7" x2="645.3" y2="2998.7" stroke-width="1.9"/><line x1="680.2" y1="3016.7" x2="680.2" y2="2998.7" stroke-width="1.9"/><line x1="715.0" y1="3016.7" x2="715.0" y2="2998.7" stroke-width="1.9"/><line x1="749.8" y1="3016.7" x2="749.8" y2="2998.7" stroke-width="1.9"/><line x1="784.6" y1="3016.7" x2="784.6" y2="2983.7" stroke-width="5.4"/><line x1="819.5" y1="3016.7" x2="819.5" y2="2998.7" stroke-width="1.9"/><line x1="854.3" y1="3016.7" x2="854.3" y2="2998.7" stroke-width="1.9"/><line x1="889.1" y1="3016.7" x2="889.1" y2="2998.7" stroke-width="1.9"/><line x1="923.9" y1="3016.7" x2="923.9" y2="2998.7" stroke-width="1.9"/><line x1="958.8" y1="3016.7" x2="958.8" y2="2983.7" stroke-width="5.4"/><line x1="993.6" y1="3016.7" x2="993.6" y2="2998.7" stroke-width="1.9"/><line x1="1028.4" y1="3016.7" x2="1028.4" y2="2998.7" stroke-width="1.9"/><line x1="1063.2" y1="3016.7" x2="1063.2" y2="2998.7" stroke-width="1.9"/><line x1="1098.0" y1="3016.7" x2="1098.0" y2="2998.7" stroke-width="1.9"/><line x1="1132.9" y1="3016.7" x2="1132.9" y2="2983.7" stroke-width="5.4"/><line x1="1167.7" y1="3016.7" x2="1167.7" y2="2998.7" stroke-width="1.9"/><line x1="1202.5" y1="3016.7" x2="1202.5" y2="2998.7" stroke-width="1.9"/><line x1="1237.3" y1="3016.7" x2="1237.3" y2="2998.7" stroke-width="1.9"/><line x1="1272.2" y1="3016.7" x2="1272.2" y2="2998.7" stroke-width="1.9"/><line x1="1307.0" y1="3016.7" x2="1307.0" y2="2983.7" stroke-width="5.4"/><line x1="1341.8" y1="3016.7" x2="1341.8" y2="2998.7" stroke-width="1.9"/><line x1="1376.6" y1="3016.7" x2="1376.6" y2="2998.7" stroke-width="1.9"/><line x1="1411.4" y1="3016.7" x2="1411.4" y2="2998.7" stroke-width="1.9"/><line x1="1446.3" y1="3016.7" x2="1446.3" y2="2998.7" stroke-width="1.9"/><line x1="1481.1" y1="3016.7" x2="1481.1" y2="2983.7" stroke-width="5.4"/><line x1="1515.9" y1="3016.7" x2="1515.9" y2="2998.7" stroke-width="1.9"/><line x1="1550.7" y1="3016.7" x2="1550.7" y2="2998.7" stroke-width="1.9"/><line x1="1585.6" y1="3016.7" x2="1585.6" y2="2998.7" stroke-width="1.9"/><line x1="1620.4" y1="3016.7" x2="1620.4" y2="2998.7" stroke-width="1.9"/><line x1="262.3" y1="2767.4" x2="293.5" y2="2767.4" stroke-width="5.4"/><line x1="1655.2" y1="2767.4" x2="1621.9" y2="2767.4" stroke-width="5.4"/><line x1="262.3" y1="2518.2" x2="293.5" y2="2518.2" stroke-width="5.4"/><line x1="1655.2" y1="2518.2" x2="1621.9" y2="2518.2" stroke-width="5.4"/><line x1="262.3" y1="2268.9" x2="293.5" y2="2268.9" stroke-width="5.4"/><line x1="1655.2" y1="2268.9" x2="1621.9" y2="2268.9" stroke-width="5.4"/><line x1="262.3" y1="2019.7" x2="293.5" y2="2019.7" stroke-width="5.4"/><line x1="1655.2" y1="2019.7" x2="1621.9" y2="2019.7" stroke-width="5.4"/></g>
<rect x="262.3" y="1770.4" width="1392.9" height="1246.3" fill="none" stroke="#000" stroke-width="5.4"/>
<g class="tk"><text transform="translate(260.05,3078.5) scale(1.0554,1.05)" text-anchor="middle">0</text><text transform="translate(435.16,3078.5) scale(0.9452,1.05)" text-anchor="middle">5</text><text transform="translate(609.53,3078.5) scale(1.0004,1.05)" text-anchor="middle">10</text><text transform="translate(782.89,3078.5) scale(0.9398,1.05)" text-anchor="middle">15</text><text transform="translate(955.00,3078.5) scale(1.0577,1.05)" text-anchor="middle">20</text><text transform="translate(1129.36,3078.5) scale(1.0166,1.05)" text-anchor="middle">25</text><text transform="translate(1304.23,3078.5) scale(1.0574,1.05)" text-anchor="middle">30</text><text transform="translate(1478.09,3078.5) scale(1.0003,1.05)" text-anchor="middle">35</text><text transform="translate(1653.20,3078.5) scale(1.0638,1.05)" text-anchor="middle">40</text></g>
<g class="tk"><text transform="translate(145.7,1793.8) scale(0.94,1.04)">10</text><text class="sup" transform="translate(243,1761.2) scale(1.05,1.047)" text-anchor="end">-9</text><text transform="translate(126.5,2043.1) scale(0.94,1.04)">10</text><text class="sup" transform="translate(243,2010.5) scale(1.05,1.047)" text-anchor="end">-11</text><text transform="translate(126.5,2292.3) scale(0.94,1.04)">10</text><text class="sup" transform="translate(243,2259.7) scale(1.05,1.047)" text-anchor="end">-13</text><text transform="translate(126.5,2541.6) scale(0.94,1.04)">10</text><text class="sup" transform="translate(243,2509.0) scale(1.05,1.047)" text-anchor="end">-15</text><text transform="translate(126.5,2790.8) scale(0.94,1.04)">10</text><text class="sup" transform="translate(243,2758.2) scale(1.05,1.047)" text-anchor="end">-17</text><text transform="translate(126.5,3040.1) scale(0.94,1.04)">10</text><text class="sup" transform="translate(243,3007.5) scale(1.05,1.047)" text-anchor="end">-19</text></g>
<text class="ttl" transform="translate(956.5,3145.8) scale(1.0,1.015)" text-anchor="middle">v, quantum number</text>
<text class="ttl" transform="translate(93.2,2393.6) rotate(-90) scale(0.997,0.95)" text-anchor="middle">k(0,v|0,v-1)/cm<tspan class="sup" dy="-35">3</tspan><tspan dy="35">/s</tspan></text>
<line x1="816.7" y1="2247.9" x2="1039.1" y2="2247.9" stroke="#cc0000" stroke-width="5.6"/>
<rect x="915.6" y="2234.7" width="26.5" height="26.5" fill="#cc0000"/>
<text class="lg" transform="translate(1077.6,2264.0) scale(1.004,1)">T=100K</text>
<line x1="816.7" y1="2307.0" x2="1039.1" y2="2307.0" stroke="#00cc00" stroke-width="5.6"/>
<polygon points="928.9,2289.0 943.4,2315.5 914.4,2315.5" fill="#00cc00"/>
<text class="lg" transform="translate(1077.6,2322.9) scale(1.004,1)">T=300K</text>
<line x1="816.7" y1="2365.9" x2="1039.1" y2="2365.9" stroke="#3333ff" stroke-width="5.6"/>
<polygon points="936.3,2349.4 945.4,2358.5 945.4,2373.3 936.3,2382.4 921.5,2382.4 912.4,2373.3 912.4,2358.5 921.5,2349.4" fill="#3333ff"/>
<text class="lg" transform="translate(1077.6,2381.9) scale(1.004,1)">T=3000K</text>
<line x1="816.7" y1="2427.0" x2="1039.1" y2="2427.0" stroke="#000000" stroke-width="5.6"/>
<polygon points="928.9,2408.8 947.1,2427.0 928.9,2445.2 910.7,2427.0" fill="#555555"/>
<text class="lg" transform="translate(1077.6,2440.8) scale(1.004,1)">T=7000K</text>
</svg>
</body>
</html>
